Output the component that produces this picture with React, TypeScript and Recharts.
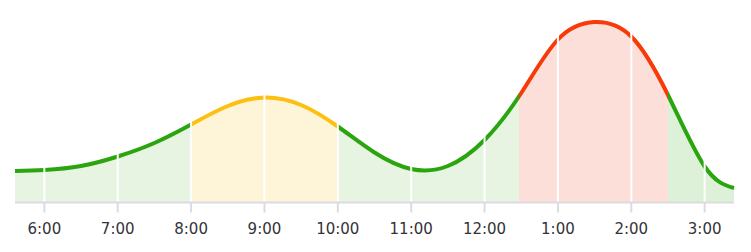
import { Area, AreaChart, ReferenceLine, XAxis, YAxis } from 'recharts';

// hour of day (24h) and busyness height
const hours = [5.6, 6, 6.5, 7, 7.5, 8, 8.5, 9, 9.5, 10, 10.5, 11, 11.5, 12, 12.5, 13, 13.5, 14, 14.5, 15, 15.4];
const busyness = [31.5, 32.5, 36.5, 46, 59.5, 78, 96.5, 105, 97.5, 76, 50, 33.5, 36.5, 62.5, 109.5, 163, 180.5, 166, 107.5, 36, 14.5];
const tickHours = [6, 7, 8, 9, 10, 11, 12, 13, 14, 15];

// colour bands: [start hour, end hour, line colour, fill colour]
const bands: [number, number, string, string][] = [
  [5.6, 8, '#2aa50e', '#e7f4e2'],
  [8, 10, '#fcc010', '#fef5d9'],
  [10, 12.47, '#2aa50e', '#e7f4e2'],
  [12.47, 14.5, '#f83a08', '#fcdfd9'],
  [14.5, 15.4, '#2aa50e', '#ddf0d8'],
];

const data = hours.map((h, i) => ({ hour: h, value: busyness[i] }));

const X_MIN = hours[0];
const X_MAX = hours[hours.length - 1];
const pct = (h: number) => `${((h - X_MIN) / (X_MAX - X_MIN)) * 100}%`;

function formatHour(h: number) {
  const v = h % 12 || 12;
  return `${v}:00`;
}

function HardStops({ id, which }: { id: string; which: 2 | 3 }) {
  return (
    <linearGradient id={id} x1="0" y1="0" x2="1" y2="0">
      {bands.flatMap(([a, b, line, fill], i) => [
        <stop key={`${i}a`} offset={pct(a)} stopColor={which === 2 ? line : fill} />,
        <stop key={`${i}b`} offset={pct(b)} stopColor={which === 2 ? line : fill} />,
      ])}
    </linearGradient>
  );
}

export default function App() {
  return (
    <div style={{ margin: -8, width: 751, height: 252, background: '#fff' }}>
      <AreaChart width={751} height={252} data={data} margin={{ top: 0, right: 17, bottom: 0, left: 15 }}>
        <defs>
          <HardStops id="busyLine" which={2} />
          <HardStops id="busyFill" which={3} />
        </defs>
        <YAxis hide domain={[0, 202.5]} />
        <XAxis
          dataKey="hour"
          type="number"
          domain={[X_MIN, X_MAX]}
          ticks={tickHours}
          tickFormatter={formatHour}
          height={49.5}
          tickSize={10}
          tickMargin={11}
          axisLine={{ stroke: '#dcdce0', strokeWidth: 2 }}
          tickLine={{ stroke: '#dcdce0', strokeWidth: 2 }}
          tick={{ fill: '#33333a', fontSize: 15, fontFamily: 'DejaVu Sans' }}
        />
        <Area
          type="natural"
          dataKey="value"
          stroke="url(#busyLine)"
          strokeWidth={4}
          fill="url(#busyFill)"
          fillOpacity={1}
          isAnimationActive={false}
        />
        {tickHours.map((h) => (
          <ReferenceLine key={h} x={h} stroke="#ffffff" strokeWidth={2} />
        ))}
      </AreaChart>
    </div>
  );
}
